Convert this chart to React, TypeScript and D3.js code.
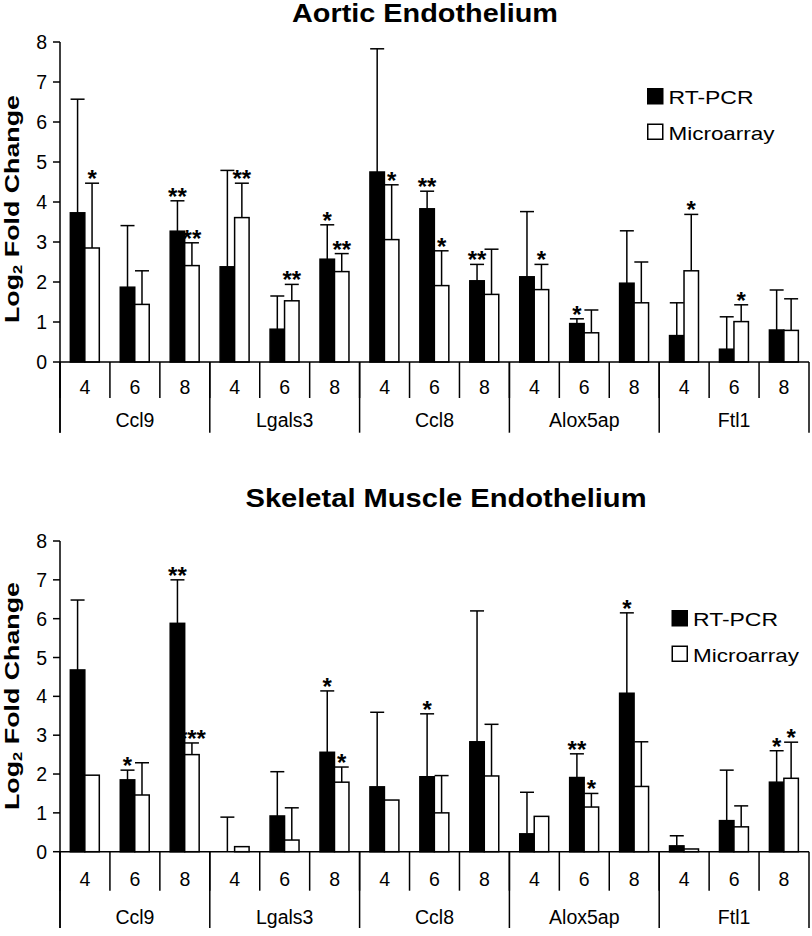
import React from "react";
import * as d3 from "d3";

const genes = ["Ccl9", "Lgals3", "Ccl8", "Alox5ap", "Ftl1"];
const weeks = ["4", "6", "8"];
const yTicks = [0, 1, 2, 3, 4, 5, 6, 7, 8];
const seriesNames = ["RT-PCR", "Microarray"];

// Aortic endothelium
const aortaPcr = [3.73, 1.87, 3.27, 2.38, 0.82, 2.57, 4.75, 3.83, 2.03, 2.13, 0.96, 1.97, 0.66, 0.32, 0.8];
const aortaPcrErr = [2.84, 1.54, 0.76, 2.41, 0.83, 0.86, 3.08, 0.44, 0.41, 1.63, 0.12, 1.31, 0.82, 0.81, 1.0];
const aortaArray = [2.85, 1.44, 2.41, 3.61, 1.53, 2.26, 3.06, 1.91, 1.69, 1.81, 0.73, 1.48, 2.28, 1.01, 0.79];
const aortaArrayErr = [1.62, 0.84, 0.57, 0.86, 0.41, 0.45, 1.37, 0.87, 1.13, 0.63, 0.57, 1.02, 1.41, 0.42, 0.79];
const aortaPcrSig = ["", "", "**", "", "", "*", "", "**", "**", "", "*", "", "", "", ""];
const aortaArraySig = ["*", "", "**", "**", "**", "**", "*", "*", "", "*", "", "", "*", "*", ""];

// Skeletal muscle endothelium
const musclePcr = [4.68, 1.85, 5.88, 0, 0.92, 2.56, 1.67, 1.93, 2.83, 0.46, 1.91, 4.08, 0.15, 0.8, 1.79];
const musclePcrErr = [1.8, 0.25, 1.12, 0.89, 1.14, 1.58, 1.92, 1.62, 3.37, 1.07, 0.61, 2.07, 0.26, 1.3, 0.81];
const muscleArray = [1.97, 1.46, 2.5, 0.13, 0.3, 1.79, 1.33, 1.0, 1.95, 0.91, 1.15, 1.68, 0.07, 0.64, 1.89];
const muscleArrayErr = [0, 0.83, 0.3, 0, 0.83, 0.39, 0, 0.96, 1.33, 0, 0.35, 1.15, 0, 0.54, 0.93];
const musclePcrSig = ["", "*", "**", "", "", "*", "", "*", "", "", "**", "*", "", "", "*"];
const muscleArraySig = ["", "", "***", "", "", "*", "", "", "", "", "*", "", "", "", "*"];

const font = "Arial, 'Liberation Sans', sans-serif";
const groups = genes.flatMap(g => weeks.map(w => g + "-" + w));

const x = d3.scaleBand().domain(groups).range([60, 809]).paddingInner(0).paddingOuter(0);
const geneX = d3.scaleBand().domain(genes).range([60, 809]);

const Panel = ({ title, titleX, titleLen, pcr, pcrErr, arr, arrErr, pcrSig, arrSig, L }) => {
  const y = d3.scaleLinear().domain([0, 8]).range([L.y0, L.y8]);
  const bw = x.bandwidth();
  const barW = bw * 0.29;
  const offs = [bw * 0.207, bw * 0.207 + barW];
  const series = [
    { vals: pcr, errs: pcrErr, sig: pcrSig, fill: "#000" },
    { vals: arr, errs: arrErr, sig: arrSig, fill: "#fff" },
  ];
  return (
    <g>
      <text x={titleX} y={L.titleY} textAnchor="middle" fontSize={25} fontWeight="bold"
        textLength={titleLen} lengthAdjust="spacingAndGlyphs">{title}</text>
      <text transform={`translate(19,${L.labelY}) rotate(-90)`} textAnchor="middle" fontSize={21}
        fontWeight="bold" textLength={228} lengthAdjust="spacingAndGlyphs">
        Log<tspan fontSize={13} dy={3}>2</tspan><tspan dy={-3}> Fold Change</tspan>
      </text>
      {/* y axis */}
      <line x1={60} x2={60} y1={y(8)} y2={L.majEnd} stroke="#000" strokeWidth={1.5} />
      {yTicks.map(t => (
        <g key={t}>
          <line x1={53} x2={60} y1={y(t)} y2={y(t)} stroke="#000" strokeWidth={1.5} />
          <text x={47} y={y(t) + 7} textAnchor="end" fontSize={19.5}>{t}</text>
        </g>
      ))}
      {/* bars */}
      {series.map((s, si) => groups.map((g, i) => {
        const bx = x(g) + offs[si];
        const cx = bx + barW / 2;
        const top = y(s.vals[i] + s.errs[i]);
        return (
          <g key={si + g}>
            {s.vals[i] > 0 && (
              <rect x={bx} y={y(s.vals[i])} width={barW} height={y(0) - y(s.vals[i])}
                fill={s.fill} stroke="#000" strokeWidth={1.5} />
            )}
            {s.errs[i] > 0 && (
              <g stroke="#000" strokeWidth={1.5}>
                <line x1={cx} x2={cx} y1={y(s.vals[i])} y2={top} />
                <line x1={cx - 7} x2={cx + 7} y1={top} y2={top} />
              </g>
            )}
            {s.sig[i] && (
              <text x={cx} y={top + 4} textAnchor="middle" fontSize={24} fontWeight="bold">{s.sig[i]}</text>
            )}
          </g>
        );
      }))}
      {/* category axis */}
      <line x1={60} x2={809} y1={y(0)} y2={y(0)} stroke="#000" strokeWidth={1.5} />
      {groups.map((g, i) => (
        <g key={g}>
          <line x1={x(g)} x2={x(g)} y1={y(0)} y2={L.subEnd} stroke="#000" strokeWidth={1.5} />
          <text x={x(g) + bw / 2} y={L.sampleBase} textAnchor="middle" fontSize={19.5}>{weeks[i % 3]}</text>
        </g>
      ))}
      {genes.map(g => (
        <g key={g}>
          <line x1={geneX(g)} x2={geneX(g)} y1={y(0)} y2={L.majEnd} stroke="#000" strokeWidth={1.5} />
          <text x={geneX(g) + geneX.bandwidth() / 2} y={L.geneBase} textAnchor="middle" fontSize={19.5}>{g}</text>
        </g>
      ))}
      <line x1={809} x2={809} y1={y(0)} y2={L.majEnd} stroke="#000" strokeWidth={1.5} />
      {/* legend */}
      {seriesNames.map((n, i) => (
        <g key={n} transform={`translate(${L.legX},${L.legY + i * 35.5})`}>
          <rect x={0.75} y={0.75} width={15} height={15} fill={i === 0 ? "#000" : "#fff"} stroke="#000" strokeWidth={1.5} />
          <text x={21.5} y={16} fontSize={18.6} textLength={i === 0 ? 85 : 106} lengthAdjust="spacingAndGlyphs">{n}</text>
        </g>
      ))}
    </g>
  );
};

const topLayout = { titleY: 22, y0: 362, y8: 42, sampleBase: 394, geneBase: 427, subEnd: 398, majEnd: 432.7, legX: 647, legY: 88, labelY: 209 };
const botLayout = { titleY: 506.5, y0: 851.7, y8: 541, sampleBase: 886, geneBase: 924, subEnd: 890.7, majEnd: 928, legX: 671.5, legY: 610, labelY: 696 };

export default function App() {
  return (
    <div style={{ position: "absolute", left: 0, top: 0 }}>
      <svg width={812} height={936} style={{ display: "block", background: "#fff" }} fontFamily={font}>
        <Panel title="Aortic Endothelium" titleX={425} titleLen={266} pcr={aortaPcr} pcrErr={aortaPcrErr}
          arr={aortaArray} arrErr={aortaArrayErr} pcrSig={aortaPcrSig} arrSig={aortaArraySig} L={topLayout} />
        <Panel title="Skeletal Muscle Endothelium" titleX={446} titleLen={401} pcr={musclePcr} pcrErr={musclePcrErr}
          arr={muscleArray} arrErr={muscleArrayErr} pcrSig={musclePcrSig} arrSig={muscleArraySig} L={botLayout} />
      </svg>
    </div>
  );
}
